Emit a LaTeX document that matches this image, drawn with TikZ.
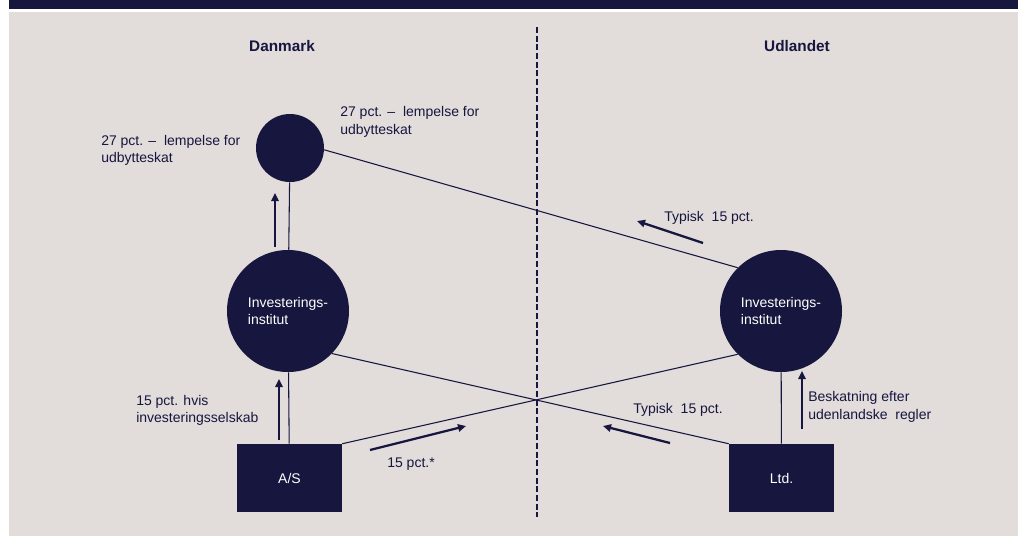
\documentclass[tikz,border=0pt]{standalone}
\usepackage{fontspec}
\setmainfont{Liberation Sans}
\usetikzlibrary{arrows.meta}
\definecolor{navy}{HTML}{16163E}
\definecolor{panel}{HTML}{E2DCDB}
\begin{document}
\begin{tikzpicture}[x=0.75pt,y=-0.75pt,
  txt/.style={font=\fontsize{10.5}{13}\selectfont, text=navy, align=left, anchor=west, inner sep=0pt},
  head/.style={font=\bfseries\fontsize{11.5}{14}\selectfont, text=navy, inner sep=0pt},
  bigcirc/.style={circle, fill=navy, minimum size=91.5pt, inner sep=0pt, text=white, align=left,
                  font=\fontsize{10.5}{13}\selectfont},
  smallcirc/.style={circle, fill=navy, minimum size=51pt, inner sep=0pt},
  firm/.style={rectangle, fill=navy, minimum width=78.75pt, minimum height=51pt, inner sep=0pt,
               text=white, font=\fontsize{10.5}{13}\selectfont},
  link/.style={draw=navy, line width=0.8pt},
  flow/.style={draw=navy, line width=1.7pt, -{Triangle[length=6pt,width=5.5pt]}},
  border/.style={draw=navy, line width=1.6pt, dash pattern=on 4.5pt off 2pt}]

% page, panel and top band
\useasboundingbox (0,0) rectangle (1018,537);
\fill[white] (0,0) rectangle (1018,537);
\fill[panel] (9,12) rectangle (1018,536);
\fill[navy] (9,0) rectangle (1018,9);

% country split
\coordinate (splitTop) at (537,27);
\coordinate (splitBot) at (537,517);
\draw[border] (splitTop) -- (splitBot);
\node[head] (dk) at (282,46) {Danmark};
\node[head] (ud) at (797,46) {Udlandet};

% entities
\node[smallcirc] (T) at (290,148) {};
\node[bigcirc] (L) at (288,311) {Investerings-\\institut};
\node[bigcirc] (R) at (781,311) {Investerings-\\institut};
\node[firm] (AS) at (289.5,478) {A/S};
\node[firm] (Ltd) at (781.5,478) {Ltd.};

% ownership links
\draw[link] (T) -- (L);
\draw[link] (L) -- (AS);
\draw[link] (R) -- (Ltd);
\draw[link] (T.-3) -- (R.135);
\draw[link] (L.-44) -- (Ltd.north west);
\draw[link] (AS.north east) -- (R.225);

% flow arrows
\coordinate (a1s) at (275,247); \coordinate (a1e) at (275,193);
\coordinate (a2s) at (279,440); \coordinate (a2e) at (279,379);
\coordinate (a3s) at (802,429); \coordinate (a3e) at (802,371);
\coordinate (a4s) at (370,450); \coordinate (a4e) at (466,426);
\coordinate (a5s) at (670,443); \coordinate (a5e) at (603,426);
\coordinate (a6s) at (703,243); \coordinate (a6e) at (637,221);
\draw[flow] (a1s) -- (a1e);
\draw[flow] (a2s) -- (a2e);
\draw[flow] (a3s) -- (a3e);
\draw[flow] (a4s) -- (a4e);
\draw[flow] (a5s) -- (a5e);
\draw[flow] (a6s) -- (a6e);

% labels
\node[txt] (l1) at (101,150.5) {27 pct. –\ \ lempelse for\\udbytteskat};
\node[txt] (l2) at (340,122) {27 pct. –\ \ lempelse for\\udbytteskat};
\node[txt] (l3) at (664,218) {Typisk\ \ 15 pct.};
\node[txt] (l4) at (136,410.5) {15 pct. hvis\\investeringsselskab};
\node[txt] (l5) at (387,464) {15 pct.*};
\node[txt] (l6) at (633,410) {Typisk\ \ 15 pct.};
\node[txt] (l7) at (808,407) {Beskatning efter\\udenlandske\ \ regler};
\end{tikzpicture}
\end{document}
